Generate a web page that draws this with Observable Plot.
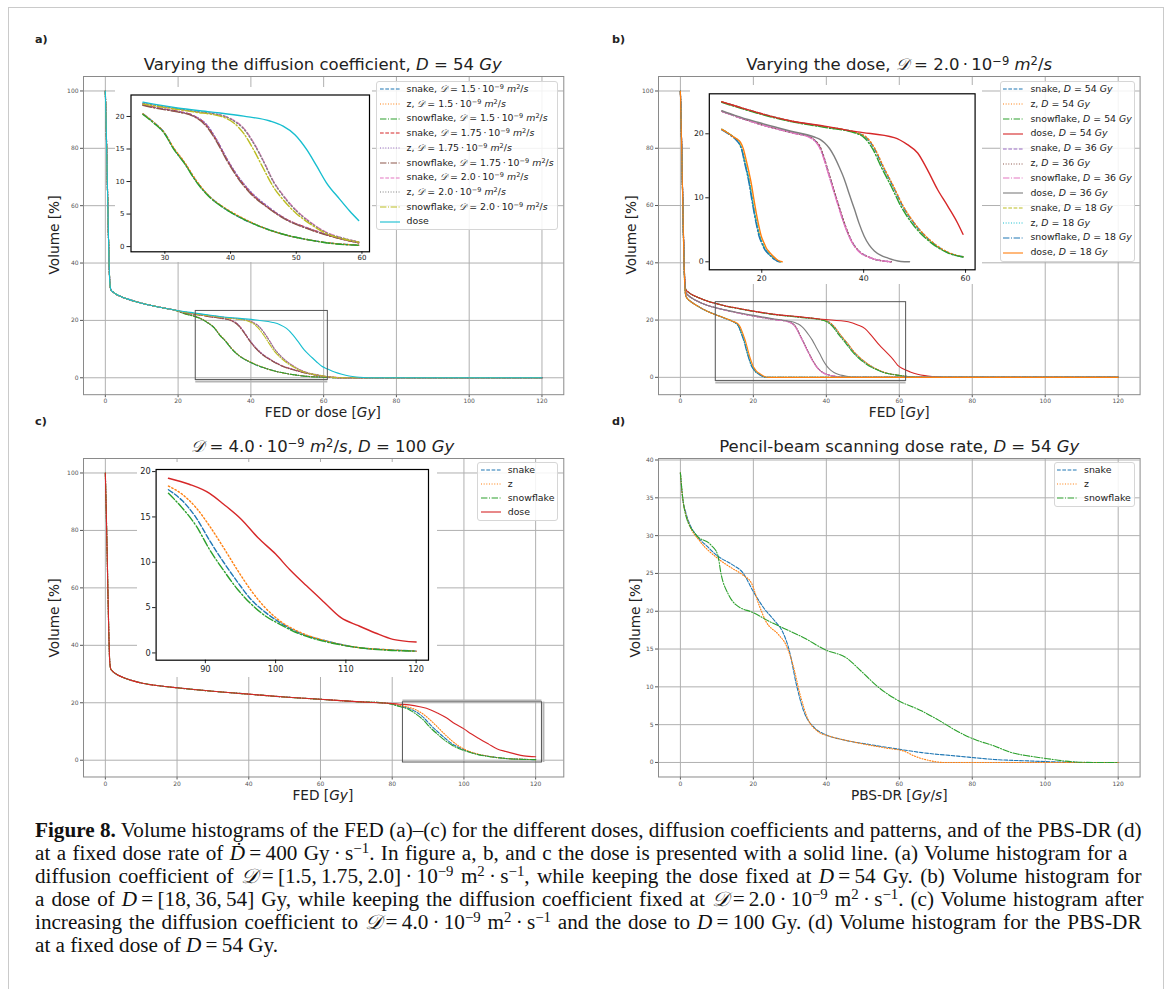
<!DOCTYPE html>
<html><head><meta charset="utf-8">
<script src="https://cdn.jsdelivr.net/npm/d3@7"></script>
<script src="https://cdn.jsdelivr.net/npm/@observablehq/plot@0.6"></script>
<style>
html,body{margin:0;padding:0;background:#fff;}
#fig{position:relative;width:1167px;height:989px;overflow:hidden;background:#fff;font-family:"DejaVu Sans",sans-serif;color:#222;}
.t{position:absolute;white-space:nowrap;line-height:1;}
.sup{position:relative;top:-0.45em;font-size:0.7em;}
.scr{font-family:"DejaVu Serif","DejaVu Sans",serif;font-style:italic;}
.cap{font-family:"Liberation Serif","Times New Roman",serif;color:#111;}
</style></head>
<body><div id="fig"></div>
<script>
// ---------------- tick values ----------------
const xTicksMain = [0, 20, 40, 60, 80, 100, 120];
const yTicksMain = [0, 20, 40, 60, 80, 100];
const yTicksD = [0, 5, 10, 15, 20, 25, 30, 35, 40];
const insetATicksX = [30, 40, 50, 60], insetATicksY = [0, 5, 10, 15, 20];
const insetBTicksX = [20, 40, 60], insetBTicksY = [0, 10, 20];
const insetCTicksX = [90, 100, 110, 120], insetCTicksY = [0, 5, 10, 15, 20];

// ---------------- panel a data (FED / dose, D = 54 Gy) ----------------
const aHead = [[0,100],[0.3,84],[0.6,65],[0.9,47],[1.2,34],[1.5,30.8],[2,30.0],[3,29.1],[4.5,28.2],[6,27.5],[8,26.7],[10,26.0],[13,25.1],[16,24.3],[19,23.6]];
const aSnake15 = [[22,22.3],[24.5,21.5],[26.67,20.4],[28.3,19.1],[29.85,17.6],[31.4,15.0],[32.9,13.0],[34.9,9.9],[36.9,7.6],[38.9,6.0],[42,4.2],[45,2.9],[48,1.9],[52.1,1.0],[56.1,0.45],[59.5,0.22],[62,0.08],[65,0],[120,0]];
const aZ15     = [[22,22.3],[24.5,21.5],[26.67,20.4],[28.3,19.1],[29.85,17.6],[31.4,15.1],[32.9,13.1],[34.9,10.0],[36.9,7.6],[38.9,6.1],[42,4.3],[45,2.9],[48,1.9],[52.1,1.0],[56.1,0.45],[59.5,0.22],[62,0.08],[65,0],[120,0]];
const aSnow15  = [[22,22.2],[24.5,21.4],[26.67,20.3],[28.3,19.0],[29.85,17.5],[31.4,14.9],[32.9,12.9],[34.9,9.8],[36.9,7.5],[38.9,6.0],[42,4.2],[45,2.9],[48,1.9],[52.1,1.0],[56.1,0.4],[59.5,0.2],[62,0.07],[65,0],[120,0]];
const aSnake175 = [[22,22.7],[24.5,22.2],[26.67,21.8],[29,21.3],[31.9,20.8],[34.4,20.1],[36.4,18.6],[37.9,16.3],[39.4,13.5],[41,10.9],[43,8.4],[45.5,6.2],[48.5,4.2],[52.1,2.7],[56.1,1.4],[59.5,0.6],[61,0.35],[63,0.12],[65,0.02],[67,0],[120,0]];
const aZ175     = [[22,22.7],[24.5,22.2],[26.67,21.8],[29,21.3],[31.9,20.8],[34.4,20.1],[36.4,18.7],[37.9,16.4],[39.4,13.6],[41,11.0],[43,8.5],[45.5,6.3],[48.5,4.2],[52.1,2.7],[56.1,1.4],[59.5,0.6],[61,0.35],[63,0.12],[65,0.02],[67,0],[120,0]];
const aSnow175  = [[22,22.6],[24.5,22.1],[26.67,21.7],[29,21.2],[31.9,20.7],[34.4,20.0],[36.4,18.4],[37.9,16.1],[39.4,13.3],[41,10.7],[43,8.2],[45.5,6.1],[48.5,4.1],[52.1,2.6],[56.1,1.35],[59.5,0.58],[61,0.33],[63,0.1],[65,0.02],[67,0],[120,0]];
const aSnake20 = [[22,22.9],[24.5,22.4],[26.67,22.0],[30.5,21.4],[34.4,20.8],[38.9,20.1],[40.5,19.4],[42,18.2],[43.5,16.0],[45,13.2],[46.5,10.1],[48,7.9],[50,5.6],[52.1,3.8],[54.6,2.2],[57.1,1.3],[59.5,0.72],[61,0.4],[63,0.15],[65,0.03],[67,0],[120,0]];
const aZ20     = [[22,22.9],[24.5,22.4],[26.67,22.0],[30.5,21.4],[34.4,20.8],[38.9,20.1],[40.5,19.3],[42,18.1],[43.5,15.9],[45,13.1],[46.5,10.0],[48,7.8],[50,5.5],[52.1,3.7],[54.6,2.1],[57.1,1.3],[59.5,0.7],[61,0.4],[63,0.15],[65,0.03],[67,0],[120,0]];
const aSnow20  = [[22,22.8],[24.5,22.3],[26.67,21.9],[30.5,21.3],[34.4,20.7],[38.9,19.9],[40.5,19.0],[42,17.4],[43.5,14.9],[45,12.0],[46.5,9.2],[48,7.2],[50,5.1],[52.1,3.5],[54.6,2.0],[57.1,1.2],[59.5,0.68],[61,0.38],[63,0.14],[65,0.03],[67,0],[120,0]];
const aDose    = [[22,23.0],[24.5,22.6],[26.67,22.2],[31.9,21.3],[36.9,20.7],[42,20.05],[46,19.3],[48,18.5],[49.8,17.2],[51.6,14.9],[53.1,12.4],[54.6,9.8],[56.6,7.3],[58.1,5.5],[59.5,4.0],[61,3.1],[63,2.0],[65,1.2],[67,0.6],[69,0.25],[71,0.08],[73,0],[120,0]];

// ---------------- panel b data (D = 2.0e-9 m2/s) ----------------
const bHead54 = [[0,100],[0.3,84],[0.6,65],[0.9,47],[1.2,34],[1.5,30.6],[2,29.9],[3,29.0],[5,27.8],[7.5,26.6],[10,25.7]];
const bHead36 = [[0,100],[0.3,84],[0.6,65],[0.9,46],[1.2,33],[1.5,29.6],[2,28.8],[3,27.8],[5,26.4],[7.5,25.1],[10,24.2]];
const bHead18 = [[0,100],[0.3,83],[0.6,64],[0.9,45],[1.2,32],[1.5,28.4],[2,27.4],[3,26.3],[5,24.7],[7.5,23.0],[10,21.7]];
const bSnake54 = [[12.16,25.0],[15,24.3],[19.2,23.3],[25.75,22.0],[32.3,21.1],[38.8,20.1],[40.4,19.5],[42.1,17.7],[43.7,15.0],[45.7,11.9],[47.6,8.8],[50.2,5.7],[53.5,3.0],[56.7,1.4],[59.5,0.78],[61,0.45],[63,0.2],[65,0.05],[67,0],[120,0]];
const bZ54     = [[12.16,25.0],[15,24.3],[19.2,23.3],[25.75,22.0],[32.3,21.1],[38.8,20.1],[40.5,19.5],[42.2,17.7],[43.8,15.0],[45.8,11.9],[47.7,8.8],[50.3,5.7],[53.6,3.0],[56.8,1.4],[59.5,0.8],[61,0.45],[63,0.2],[65,0.05],[67,0],[120,0]];
const bSnow54  = [[12.16,24.9],[15,24.2],[19.2,23.2],[25.75,21.9],[32.3,21.0],[38.8,20.0],[40.1,19.4],[41.8,17.6],[43.4,14.9],[45.4,11.8],[47.3,8.7],[49.9,5.6],[53.2,3.0],[56.5,1.4],[59.5,0.75],[61,0.45],[63,0.2],[65,0.05],[67,0],[120,0]];
const bDose54  = [[12.16,25.0],[15,24.3],[19.2,23.3],[25.75,22.0],[32.3,21.2],[38.8,20.3],[46,19.4],[48.6,18.3],[50.6,17.0],[52.5,14.4],[54.5,11.3],[56.5,8.7],[58.4,6.1],[59.5,4.3],[61,3.0],[63,1.9],[65,1.1],[67,0.6],[69,0.3],[71,0.1],[73,0],[120,0]];
const bSnake36 = [[12.16,23.5],[15,22.7],[19.2,21.6],[25.75,20.2],[29.7,19.4],[30.5,18.9],[31.3,18.1],[32.1,16.5],[32.9,14.4],[33.9,11.8],[34.9,9.2],[35.9,6.7],[36.9,4.5],[37.8,3.0],[38.8,1.9],[41.4,0.6],[44.1,0.1],[45.4,0],[120,0]];
const bZ36     = [[12.16,23.5],[15,22.7],[19.2,21.6],[25.75,20.2],[29.7,19.4],[30.5,18.9],[31.3,18.2],[32.1,16.6],[32.9,14.5],[33.9,11.9],[34.9,9.3],[35.9,6.8],[36.9,4.6],[37.8,3.0],[38.8,1.9],[41.4,0.6],[44.1,0.1],[45.4,0],[120,0]];
const bSnow36  = [[12.16,23.5],[15,22.7],[19.2,21.6],[25.75,20.2],[29.7,19.3],[30.5,18.8],[31.3,17.9],[32.1,16.3],[32.9,14.2],[33.9,11.6],[34.9,9.0],[35.9,6.5],[36.9,4.4],[37.8,2.9],[38.8,1.8],[41.4,0.6],[44.1,0.1],[45.4,0],[120,0]];
const bDose36  = [[12.16,23.6],[15,22.8],[19.2,21.8],[25.75,20.4],[30.3,19.5],[31.5,19.1],[32.3,18.6],[33.3,17.7],[34.2,16.5],[35.2,14.8],[36.2,12.9],[37.2,10.5],[38.2,8.2],[39.1,6.0],[40.1,4.0],[41.1,2.6],[42.1,1.7],[43.4,1.0],[44.7,0.6],[46,0.25],[47.3,0.05],[49,0],[120,0]];
const bSnake18 = [[12.16,20.7],[13.2,20.2],[14.3,19.6],[15.0,19.1],[15.6,18.5],[16.1,17.5],[16.6,15.9],[17.1,14.2],[17.6,12.3],[18.1,9.9],[18.6,7.6],[19.1,5.6],[19.6,3.9],[20.1,2.9],[20.55,2.1],[21.2,1.4],[21.9,0.85],[22.6,0.35],[23.2,0.08],[23.7,0],[120,0]];
const bZ18     = [[12.16,20.7],[13.2,20.2],[14.3,19.6],[15.0,19.1],[15.6,18.5],[16.1,17.5],[16.6,16.0],[17.1,14.3],[17.6,12.4],[18.1,10.0],[18.6,7.7],[19.1,5.7],[19.6,4.0],[20.1,3.0],[20.55,2.2],[21.2,1.5],[21.9,0.9],[22.6,0.4],[23.2,0.1],[23.7,0],[120,0]];
const bSnow18  = [[12.16,20.6],[13.2,20.1],[14.3,19.5],[15.0,19.0],[15.6,18.4],[16.1,17.4],[16.5,15.9],[17.0,14.2],[17.5,12.3],[18.0,9.9],[18.5,7.6],[19.0,5.6],[19.5,3.9],[20.0,2.9],[20.45,2.1],[21.1,1.4],[21.8,0.85],[22.5,0.35],[23.1,0.08],[23.6,0],[120,0]];
const bDose18  = [[12.16,20.7],[13.2,20.2],[14.3,19.6],[15.1,19.2],[15.8,18.7],[16.4,17.6],[16.9,16.0],[17.4,14.3],[17.9,12.4],[18.4,10.0],[18.9,7.7],[19.4,5.7],[19.9,4.0],[20.4,3.0],[20.85,2.2],[21.5,1.5],[22.2,0.9],[22.9,0.4],[23.5,0.1],[24,0],[120,0]];

// ---------------- panel c data (D = 4.0e-9 m2/s, D = 100 Gy) ----------------
const cHead = [[0,100],[0.3,84],[0.6,66],[0.9,48],[1.2,35],[1.5,31.8],[2,31.0],[3,30.0],[5,28.8],[7.5,27.7],[10,26.9],[15,25.9],[20,25.2],[30,24.0],[40,23.0],[50,22.0],[60,21.2],[70,20.4],[78,19.9]];
const cSnake = [[82,18.9],[84.75,18.0],[86.7,16.8],[88.7,14.9],[90.6,12.4],[92.6,10.0],[94.6,7.8],[96.5,5.9],[98.5,4.5],[100.5,3.4],[103.4,2.2],[106.8,1.4],[111.7,0.6],[116,0.35],[120,0.2]];
const cZ     = [[82,19.1],[84.75,18.4],[86.7,17.5],[88.7,16.0],[90.6,14.0],[92.6,11.6],[94.6,9.1],[96.5,6.9],[98.5,5.0],[100.5,3.6],[103.4,2.3],[106.8,1.4],[111.7,0.6],[116,0.35],[120,0.2]];
const cSnow  = [[82,18.7],[84.75,17.6],[86.7,16.0],[88.7,14.0],[90.6,11.4],[92.6,9.1],[94.6,7.0],[96.5,5.4],[98.5,4.1],[100.5,3.2],[103.4,2.1],[106.8,1.3],[111.7,0.6],[116,0.3],[120,0.2]];
const cDose  = [[82,19.5],[84.75,19.27],[87.7,18.6],[90.6,17.6],[92.6,16.4],[95.1,14.75],[97.5,12.7],[100,10.9],[102,9.2],[104.4,7.4],[106.9,5.6],[109.3,3.9],[111.8,3.0],[114.2,2.2],[116.7,1.5],[120,1.2]];

// ---------------- panel d data (PBS dose rate) ----------------
const dSnake = [[0,38.3],[0.6,35.0],[1.4,33.2],[2.4,31.7],[4.3,30.1],[7.3,28.6],[10.2,27.3],[14.1,26.2],[17.1,25.1],[20,22.6],[22.9,20.4],[25.9,18.7],[27.9,17.4],[29.9,14.7],[31.8,10.3],[33.8,6.8],[36.7,4.6],[39.7,3.7],[44.6,3.0],[51.5,2.4],[59.3,1.8],[66.2,1.3],[76,0.84],[85.9,0.4],[95.7,0.2],[105.5,0.04],[110,0],[120,0]];
const dZ     = [[0,38.3],[0.6,35.0],[1.4,33.0],[2.4,31.5],[5.3,29.3],[10.2,27.0],[14.1,25.7],[17.1,24.8],[19.5,23.7],[21.5,20.9],[23.4,18.7],[26.9,16.9],[28.9,15.6],[30.8,13.0],[32.8,9.0],[34.8,5.9],[37.7,4.1],[40.7,3.5],[46.6,2.8],[56.4,1.9],[61.3,1.5],[64.2,0.84],[68.2,0.26],[72.1,0],[120,0]];
const dSnow  = [[0,38.3],[0.6,35.2],[1.4,32.8],[4.3,30.1],[8.3,28.8],[10.2,27.5],[11.2,24.8],[13.2,22.2],[15.1,20.9],[20,19.8],[25,18.5],[29.9,17.4],[33.8,16.5],[39.7,14.9],[45.6,13.8],[49.5,12.1],[54.4,9.9],[59.3,8.3],[66.2,6.8],[71.1,5.5],[76,4.1],[80.9,3.0],[85.9,2.2],[90.8,1.3],[95.7,0.84],[100.6,0.5],[105.5,0.18],[110,0.03],[115.3,0],[120,0]];

// ---------------- styles ----------------
const C = {blue:"#1f77b4", orange:"#ff7f0e", green:"#2ca02c", red:"#d62728", purple:"#9467bd",
           brown:"#8c564b", pink:"#e377c2", gray:"#7f7f7f", olive:"#bcbd22", cyan:"#17becf"};
const DASH = {dashed:"3.7,1.6", dotted:"1,1.65", dashdot:"6.4,1.6,1,1.6", solid:null};
const DASH_IN = {dashed:"5.2,2.2", dotted:"1.4,2.3", dashdot:"8.5,2.2,1.4,2.2", solid:null};

const sup = s => `<span class="sup">${s}</span>`;
const SD = `<span class="scr">𝒟</span>`;
const dco = v => `${SD} = ${v}\u202F·\u202F10${sup("−9")} <i>m</i>${sup("2")}/<i>s</i>`;
const dose = v => `<i>D</i> = ${v} <i>Gy</i>`;

const seriesA = [
  {data: aHead.concat(aSnake15), color:C.blue, dash:"dashed", label:`snake, ${dco("1.5")}`},
  {data: aHead.concat(aZ15), color:C.orange, dash:"dotted", label:`z, ${dco("1.5")}`},
  {data: aHead.concat(aSnow15), color:C.green, dash:"dashdot", label:`snowflake, ${dco("1.5")}`},
  {data: aHead.concat(aSnake175), color:C.red, dash:"dashed", label:`snake, ${dco("1.75")}`},
  {data: aHead.concat(aZ175), color:C.purple, dash:"dotted", label:`z, ${dco("1.75")}`},
  {data: aHead.concat(aSnow175), color:C.brown, dash:"dashdot", label:`snowflake, ${dco("1.75")}`},
  {data: aHead.concat(aSnake20), color:C.pink, dash:"dashed", label:`snake, ${dco("2.0")}`},
  {data: aHead.concat(aZ20), color:C.gray, dash:"dotted", label:`z, ${dco("2.0")}`},
  {data: aHead.concat(aSnow20), color:C.olive, dash:"dashdot", label:`snowflake, ${dco("2.0")}`},
  {data: aHead.concat(aDose), color:C.cyan, dash:"solid", label:`dose`}
];
const seriesB = [
  {data: bHead54.concat(bSnake54), color:C.blue, dash:"dashed", label:`snake, ${dose(54)}`},
  {data: bHead54.concat(bZ54), color:C.orange, dash:"dotted", label:`z, ${dose(54)}`},
  {data: bHead54.concat(bSnow54), color:C.green, dash:"dashdot", label:`snowflake, ${dose(54)}`},
  {data: bHead54.concat(bDose54), color:C.red, dash:"solid", label:`dose, ${dose(54)}`},
  {data: bHead36.concat(bSnake36), color:C.purple, dash:"dashed", label:`snake, ${dose(36)}`},
  {data: bHead36.concat(bZ36), color:C.brown, dash:"dotted", label:`z, ${dose(36)}`},
  {data: bHead36.concat(bSnow36), color:C.pink, dash:"dashdot", label:`snowflake, ${dose(36)}`},
  {data: bHead36.concat(bDose36), color:C.gray, dash:"solid", label:`dose, ${dose(36)}`},
  {data: bHead18.concat(bSnake18), color:C.olive, dash:"dashed", label:`snake, ${dose(18)}`},
  {data: bHead18.concat(bZ18), color:C.cyan, dash:"dotted", label:`z, ${dose(18)}`},
  {data: bHead18.concat(bSnow18), color:C.blue, dash:"dashdot", label:`snowflake, ${dose(18)}`},
  {data: bHead18.concat(bDose18), color:C.orange, dash:"solid", label:`dose, ${dose(18)}`}
];
const seriesC = [
  {data: cHead.concat(cSnake), color:C.blue, dash:"dashed", label:"snake"},
  {data: cHead.concat(cZ), color:C.orange, dash:"dotted", label:"z"},
  {data: cHead.concat(cSnow), color:C.green, dash:"dashdot", label:"snowflake"},
  {data: cHead.concat(cDose), color:C.red, dash:"solid", label:"dose"}
];
const seriesD = [
  {data: dSnake, color:C.blue, dash:"dashed", label:"snake"},
  {data: dZ, color:C.orange, dash:"dotted", label:"z"},
  {data: dSnow, color:C.green, dash:"dashdot", label:"snowflake"}
];

const fig = document.getElementById("fig");
function addHTML(html, css) {
  const d = document.createElement("div");
  d.className = "t";
  d.style.cssText += css;
  d.innerHTML = html;
  fig.appendChild(d);
  return d;
}

function lineMarks(series, width, dashes, filter) {
  return series.map(s => Plot.line(filter ? s.data.filter(filter) : s.data, {
    x: d => d[0], y: d => d[1], stroke: s.color, strokeWidth: width,
    strokeDasharray: dashes[s.dash] || undefined, curve: "monotone-x"
  }));
}

function mainPanel(cfg) {
  const [x0, x1, y0, y1] = cfg.frame;
  const ml = 45, mr = 8, mt = 8, mb = 24;
  const zoom = cfg.zoom;
  const marks = [
    Plot.gridX(cfg.xTicks, {stroke: "#b0b0b0", strokeOpacity: 1, strokeWidth: 1}),
    Plot.gridY(cfg.yTicks, {stroke: "#b0b0b0", strokeOpacity: 1, strokeWidth: 1}),
    Plot.axisX(cfg.xTicks, {tickSize: 3, tickPadding: 1.5, fontSize: 6, color: "#555", label: null, tickFormat: d => String(d)}),
    Plot.axisY(cfg.yTicks, {tickSize: 3, tickPadding: 2, fontSize: 6, color: "#555", label: null, tickFormat: d => String(d)}),
    ...lineMarks(cfg.series, 1.1, DASH)
  ];
  if (zoom) {
    marks.push(Plot.rect([zoom], {x1: d => d.x[0], x2: d => d.x[1], y1: d => d.y[0], y2: d => d.y[1], fill: "none", stroke: "#555", strokeWidth: 1}));
    for (const e of zoom.edges) {
      if (e === "bottom") marks.push(Plot.ruleY([zoom.y[0]], {x1: zoom.x[0], x2: zoom.x[1], stroke: "#b5b5b5", strokeWidth: 2, dy: 1.5}));
      if (e === "top") marks.push(Plot.ruleY([zoom.y[1]], {x1: zoom.x[0], x2: zoom.x[1], stroke: "#b5b5b5", strokeWidth: 2, dy: -1.5}));
      if (e === "right") marks.push(Plot.ruleX([zoom.x[1]], {y1: zoom.y[0], y2: zoom.y[1], stroke: "#b5b5b5", strokeWidth: 2, dx: 1.5}));
    }
  }
  marks.push(Plot.frame({stroke: "#8a8a8a", strokeWidth: 1}));
  const svg = Plot.plot({
    width: x1 - x0 + ml + mr, height: y1 - y0 + mt + mb,
    marginLeft: ml, marginRight: mr, marginTop: mt, marginBottom: mb,
    x: {domain: cfg.xDomain}, y: {domain: cfg.yDomain},
    style: {fontFamily: "DejaVu Sans", background: "transparent", overflow: "visible"},
    marks
  });
  svg.style.position = "absolute";
  svg.style.left = (x0 - ml) + "px";
  svg.style.top = (y0 - mt) + "px";
  fig.appendChild(svg);
}

function insetPanel(cfg) {
  const [x0, x1, y0, y1] = cfg.frame;
  const [ml, mt, mr, mb] = cfg.pad;
  const lo = cfg.range[0], hi = cfg.range[1];
  const svg = Plot.plot({
    width: x1 - x0 + ml + mr, height: y1 - y0 + mt + mb,
    marginLeft: ml, marginRight: mr, marginTop: mt, marginBottom: mb,
    x: {domain: cfg.xDomain}, y: {domain: cfg.yDomain},
    style: {fontFamily: "DejaVu Sans", background: "#fff", overflow: "visible"},
    marks: [
      ...lineMarks(cfg.series, 1.4, DASH_IN, d => d[0] >= lo && d[0] <= hi),
      Plot.axisX(cfg.xTicks, {tickSize: cfg.tx[0], tickPadding: cfg.tx[1], fontSize: cfg.fs, color: "#222", label: null, tickFormat: d => String(d)}),
      Plot.axisY(cfg.yTicks, {tickSize: cfg.ty[0], tickPadding: cfg.ty[1], fontSize: cfg.fs, color: "#222", label: null, tickFormat: d => String(d)}),
      Plot.frame({stroke: "#000", strokeWidth: 1.2})
    ]
  });
  svg.style.position = "absolute";
  svg.style.left = (x0 - ml) + "px";
  svg.style.top = (y0 - mt) + "px";
  fig.appendChild(svg);
}

function legend(box, row0, step, series) {
  const [l, t, r, b] = box;
  const d = document.createElement("div");
  d.style.cssText = `position:absolute;left:${l}px;top:${t}px;width:${r-l}px;height:${b-t}px;background:rgba(255,255,255,0.85);border:1px solid #d6d6d6;border-radius:3px;box-sizing:border-box;`;
  series.forEach((s, i) => {
    const cy = row0 + i * step - t - 1;
    const dash = DASH[s.dash];
    d.insertAdjacentHTML("beforeend",
      `<svg width="22" height="6" style="position:absolute;left:2.5px;top:${cy-3}px"><line x1="0" x2="20" y1="3" y2="3" stroke="${s.color}" stroke-width="1.1"${dash ? ` stroke-dasharray="${dash}"` : ""}/></svg>` +
      `<div class="t" style="left:29.5px;top:${cy - 5.4}px;font-size:9.4px;">${s.label}</div>`);
  });
  fig.appendChild(d);
}

// ---------------- geometry ----------------
const frameA = [82.7, 563, 76.3, 394.5], frameB = [658.4, 1140, 76.3, 394.5];
const frameC = [82.7, 563, 458.3, 776.8], frameD = [658.4, 1140, 458.3, 776.8];
const insetA = {x: [24.85, 61.15], y: [-0.8, 23.3], edges: ["bottom"]};
const insetB = {x: [9.7, 61.87], y: [-1.25, 26.25], edges: ["bottom"]};
const insetC = {x: [82.99, 121.76], y: [-0.8, 20.23], edges: ["top", "right"]};

// outer border
const border = document.createElement("div");
border.style.cssText = "position:absolute;left:8px;top:7px;width:1156px;height:1000px;border:1.5px solid #cacaca;box-sizing:border-box;";
fig.appendChild(border);

mainPanel({frame: frameA, xDomain: [-6, 126], yDomain: [-5.9, 105.04], xTicks: xTicksMain, yTicks: yTicksMain, series: seriesA, zoom: insetA});
mainPanel({frame: frameB, xDomain: [-6, 126], yDomain: [-6.06, 105.06], xTicks: xTicksMain, yTicks: yTicksMain, series: seriesB, zoom: insetB});
mainPanel({frame: frameC, xDomain: [-6.09, 127.85], yDomain: [-5.84, 105.04], xTicks: xTicksMain, yTicks: yTicksMain, series: seriesC, zoom: insetC});
mainPanel({frame: frameD, xDomain: [-6, 126], yDomain: [-1.92, 40.2], xTicks: xTicksMain, yTicks: yTicksD, series: seriesD});

insetPanel({frame: [130.5, 369, 94.5, 251.3], pad: [15.5, 7.5, 3, 10.7], xDomain: insetA.x, yDomain: insetA.y, range: [26.6, 59.6],
  xTicks: insetATicksX, yTicks: insetATicksY, fs: 7, tx: [2.5, 1], ty: [4, 2.5], series: seriesA});
insetPanel({frame: [708.4, 974.2, 93.3, 269.3], pad: [18.8, 8.3, 8, 14.7], xDomain: insetB.x, yDomain: insetB.y, range: [12.1, 59.6],
  xTicks: insetBTicksX, yTicks: insetBTicksY, fs: 7.8, tx: [3.5, 2], ty: [3.5, 2], series: seriesB});
insetPanel({frame: [155.6, 428, 469.1, 659.8], pad: [18.6, 7, 9, 17], xDomain: insetC.x, yDomain: insetC.y, range: [84.7, 120.1],
  xTicks: insetCTicksX, yTicks: insetCTicksY, fs: 8.2, tx: [3.5, 2], ty: [3.5, 2], series: seriesC});

legend([376, 81, 558.3, 230], 89.3, 14.73, seriesA);
legend([999.9, 81.2, 1134.7, 261.8], 89.2, 14.87, seriesB);
legend([477.2, 462.4, 558.3, 521.2], 470.5, 14, seriesC);
legend([1053.5, 462.4, 1134.7, 506.9], 470.5, 14, seriesD);

// ---------------- texts ----------------
const titles = [
  [frameA, `Varying the diffusion coefficient, ${dose(54)}`],
  [frameB, `Varying the dose, ${dco("2.0")}`],
  [frameC, `${dco("4.0")}, ${dose(100)}`],
  [frameD, `Pencil-beam scanning dose rate, ${dose(54)}`]
];
const xLabels = [[frameA, `FED or dose [<i>Gy</i>]`], [frameB, `FED [<i>Gy</i>]`], [frameC, `FED [<i>Gy</i>]`], [frameD, `PBS-DR [<i>Gy</i>/<i>s</i>]`]];
const yLabelX = [60, 637, 60, 641];
const panelLabels = [["a)", 35, 34], ["b)", 612, 34], ["c)", 35, 416], ["d)", 612, 416]];

titles.forEach(([f, h]) => addHTML(h, `left:${f[0]}px;width:${f[1]-f[0]}px;text-align:center;top:${f[2] - 5 - 0.846*16.5}px;font-size:16.5px;`));
xLabels.forEach(([f, h]) => addHTML(h, `left:${f[0]}px;width:${f[1]-f[0]}px;text-align:center;top:${f[3] + 23.5 - 0.846*13.7}px;font-size:13.7px;`));
[frameA, frameB, frameC, frameD].forEach((f, i) => {
  const cy = (f[2] + f[3]) / 2, cx = yLabelX[i] - 0.346 * 13.7;
  addHTML(`Volume [%]`, `left:${cx}px;top:${cy}px;font-size:13.7px;transform:translate(-50%,-50%) rotate(-90deg);`);
});
panelLabels.forEach(([s, x, y]) => addHTML(s, `left:${x}px;top:${y}px;font-size:11.2px;font-weight:bold;`));

// ---------------- caption ----------------
const S = `<span style="font-style:italic">𝒟</span>`;
const captionLines = [
  `<b>Figure 8.</b> Volume histograms of the FED (a)–(c) for the different doses, diffusion coefficients and patterns, and of the PBS-DR (d)`,
  `at a fixed dose rate of <i>Ḋ</i>\u2009=\u2009400 Gy\u2009·\u2009s${sup("−1")}. In figure a, b, and c the dose is presented with a solid line. (a) Volume histogram for a`,
  `diffusion coefficient of ${S}\u2009=\u2009[1.5,\u20091.75,\u20092.0]\u2009·\u200910${sup("−9")} m${sup("2")}\u2009·\u2009s${sup("−1")}, while keeping the dose fixed at <i>D</i>\u2009=\u200954 Gy. (b) Volume histogram for`,
  `a dose of <i>D</i>\u2009=\u2009[18,\u200936,\u200954] Gy, while keeping the diffusion coefficient fixed at ${S}\u2009=\u20092.0\u2009·\u200910${sup("−9")} m${sup("2")}\u2009·\u2009s${sup("−1")}. (c) Volume histogram after`,
  `increasing the diffusion coefficient to ${S}\u2009=\u20094.0\u2009·\u200910${sup("−9")} m${sup("2")}\u2009·\u2009s${sup("−1")} and the dose to <i>D</i>\u2009=\u2009100 Gy. (d) Volume histogram for the PBS-DR`,
  `at a fixed dose of <i>D</i>\u2009=\u200954 Gy.`
];
const capTargets = [1106, 1092, 1106, 1108, 1106];
const capFs = 20.5;
const capDivs = captionLines.map((h, i) => {
  const d = addHTML(h, `left:35px;top:${838 + i*23 - 0.891*capFs}px;font-size:${capFs}px;transform-origin:0 0;`);
  d.classList.add("cap");
  return d;
});
// condense the serif uniformly, then justify the full lines to the measured line widths
const natural = capDivs.map(d => d.getBoundingClientRect().width);
const k = Math.min(...capTargets.map((t, i) => t / natural[i]));
capDivs.forEach((d, i) => {
  if (i < capTargets.length) {
    d.style.width = (capTargets[i] / k + 0.5) + "px";
    d.style.whiteSpace = "normal";
    d.style.textAlign = "justify";
    d.style.textAlignLast = "justify";
  }
  d.style.transform = `scaleX(${k})`;
});
</script>
</body></html>
